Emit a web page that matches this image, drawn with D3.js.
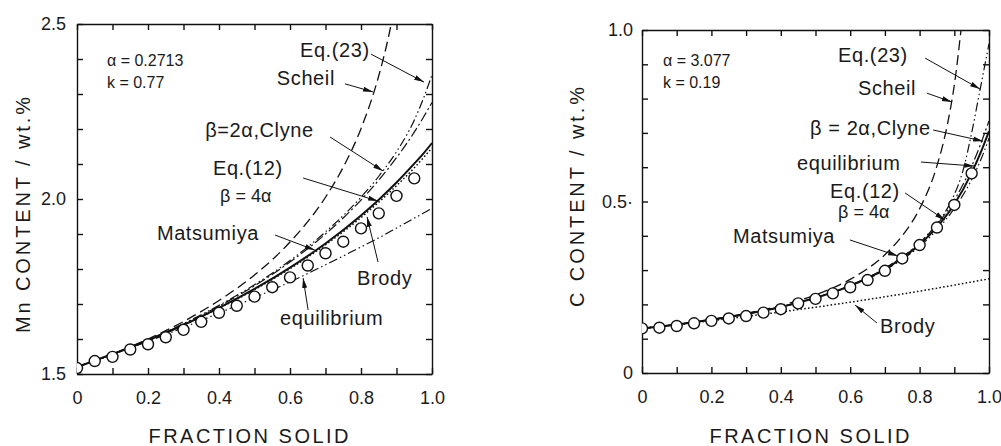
<!DOCTYPE html>
<html>
<head>
<meta charset="utf-8">
<script src="https://cdn.jsdelivr.net/npm/d3@7"></script>
<style>
  html, body { margin: 0; padding: 0; background: #fff; }
  svg { display: block; font-family: "Liberation Sans", Arial, sans-serif; }
  .axis text { font-size: 18px; fill: #1a1a1a; }
  .axis path, .axis line { stroke: #111; stroke-width: 1.4; }
</style>
</head>
<body>
<svg id="chart" width="1001" height="446"></svg>
<script>
// ---------- data: left panel (Mn) ----------
const mnFs        = [0, 0.1, 0.2, 0.3, 0.4, 0.5, 0.6, 0.7, 0.8, 0.85, 0.9, 0.95, 0.975, 1.0];
const mnScheilFs  = [0, 0.1, 0.2, 0.3, 0.4, 0.5, 0.6, 0.7, 0.75, 0.8, 0.85, 0.88, 0.9];
const mnScheil    = [1.520, 1.557, 1.600, 1.650, 1.710, 1.783, 1.877, 2.005, 2.091, 2.201, 2.352, 2.475, 2.581];
const mnEq23      = [1.520, 1.557, 1.598, 1.644, 1.696, 1.755, 1.824, 1.906, 2.005, 2.065, 2.135, 2.225, 2.285, 2.355];
const mnClyne     = [1.520, 1.557, 1.597, 1.643, 1.694, 1.752, 1.820, 1.900, 1.997, 2.054, 2.118, 2.191, 2.232, 2.276];
const mnEq12      = [1.520, 1.557, 1.596, 1.640, 1.689, 1.743, 1.804, 1.873, 1.953, 1.998, 2.047, 2.101, 2.129, 2.160];
const mnBrody     = [1.520, 1.556, 1.596, 1.640, 1.688, 1.741, 1.801, 1.869, 1.947, 1.991, 2.038, 2.089, 2.117, 2.146];
const mnEquil     = [1.520, 1.556, 1.593, 1.633, 1.674, 1.718, 1.763, 1.812, 1.863, 1.889, 1.917, 1.945, 1.959, 1.974];
const circleFs    = [0, 0.05, 0.1, 0.15, 0.2, 0.25, 0.3, 0.35, 0.4, 0.45, 0.5, 0.55, 0.6, 0.65, 0.7, 0.75, 0.8, 0.85, 0.9, 0.95];
const mnMatsumiya = [1.517, 1.537, 1.549, 1.570, 1.585, 1.605, 1.626, 1.649, 1.675, 1.695, 1.721, 1.748, 1.776, 1.810, 1.845, 1.878, 1.916, 1.959, 2.009, 2.059];

// ---------- data: right panel (C) ----------
const cFs         = [0, 0.1, 0.2, 0.3, 0.4, 0.5, 0.6, 0.7, 0.8, 0.85, 0.9, 0.95, 0.975, 1.0];
const cScheilFs   = [0, 0.1, 0.2, 0.3, 0.4, 0.5, 0.6, 0.7, 0.75, 0.8, 0.85, 0.88, 0.9, 0.92];
const cScheil     = [0.130, 0.142, 0.156, 0.174, 0.197, 0.228, 0.273, 0.345, 0.400, 0.479, 0.604, 0.724, 0.839, 1.006];
const cEq23Fs     = [0, 0.1, 0.2, 0.3, 0.4, 0.5, 0.6, 0.7, 0.8, 0.85, 0.88, 0.9, 0.925, 0.95, 0.975, 1.0];
const cEq23       = [0.130, 0.1415, 0.1552, 0.172, 0.193, 0.2197, 0.2553, 0.305, 0.3797, 0.435, 0.48, 0.52, 0.59, 0.70, 0.83, 0.96];
const cClyne      = [0.130, 0.1415, 0.1552, 0.1720, 0.1929, 0.2197, 0.2553, 0.305, 0.3797, 0.4328, 0.504, 0.603, 0.665, 0.735];
const cEq12       = [0.130, 0.1415, 0.1552, 0.1719, 0.1926, 0.2191, 0.2542, 0.3028, 0.3747, 0.4253, 0.492, 0.5836, 0.640, 0.705];
const cEquil      = [0.130, 0.1415, 0.1551, 0.1717, 0.1923, 0.2185, 0.2529, 0.3002, 0.3693, 0.4173, 0.4797, 0.5640, 0.6183, 0.6842];
const cBrodyFs    = [0, 0.1, 0.2, 0.3, 0.4, 0.5, 0.6, 0.7, 0.8, 0.9, 1.0];
const cBrody      = [0.130, 0.1409, 0.1525, 0.1648, 0.1779, 0.1918, 0.2065, 0.2222, 0.2387, 0.2562, 0.2747];
const cMatsumiya  = [0.130, 0.132, 0.137, 0.145, 0.152, 0.159, 0.166, 0.176, 0.186, 0.203, 0.216, 0.232, 0.250, 0.271, 0.298, 0.334, 0.373, 0.424, 0.490, 0.582];

// ---------- tick labels ----------
const xTickValues  = [0, 0.1, 0.2, 0.3, 0.4, 0.5, 0.6, 0.7, 0.8, 0.9, 1.0];
const xTickLabels  = {0: "0", 0.2: "0.2", 0.4: "0.4", 0.6: "0.6", 0.8: "0.8", 1: "1.0"};
const mnTickValues = [1.5, 1.6, 1.7, 1.8, 1.9, 2.0, 2.1, 2.2, 2.3, 2.4, 2.5];
const mnTickLabels = {1.5: "1.5", 2: "2.0", 2.5: "2.5"};
const cTickValues  = [0, 0.1, 0.2, 0.3, 0.4, 0.5, 0.6, 0.7, 0.8, 0.9, 1.0];
const cTickLabels  = {0: "0", 0.5: "0.5·", 1: "1.0"};

// ---------- annotations (data coordinates) ----------
const mnLabels = [
  {t: "α = 0.2713", fs: 0.0845, v: 2.380, size: 16},
  {t: "k = 0.77", fs: 0.0845, v: 2.317, size: 16},
  {t: "Eq.(23)", fs: 0.628, v: 2.406},
  {t: "Scheil", fs: 0.563, v: 2.326},
  {t: "β=2α,Clyne", fs: 0.361, v: 2.177},
  {t: "Eq.(12)", fs: 0.383, v: 2.069},
  {t: "β = 4α", fs: 0.403, v: 1.991, size: 18},
  {t: "Matsumiya", fs: 0.225, v: 1.883},
  {t: "Brody", fs: 0.789, v: 1.754},
  {t: "equilibrium", fs: 0.572, v: 1.640}
];
const mnArrows = [
  [0.828, 2.414, 0.9775, 2.334],
  [0.755, 2.329, 0.834, 2.306],
  [0.713, 2.177, 0.862, 2.080],
  [0.637, 2.060, 0.848, 1.994],
  [0.558, 1.897, 0.670, 1.854],
  [0.848, 1.820, 0.817, 1.949],
  [0.651, 1.683, 0.637, 1.774]
];
const cLabels = [
  {t: "α = 3.077", fs: 0.0605, v: 0.895, size: 16},
  {t: "k = 0.19", fs: 0.0605, v: 0.831, size: 16},
  {t: "Eq.(23)", fs: 0.565, v: 0.907},
  {t: "Scheil", fs: 0.6225, v: 0.8105},
  {t: "β = 2α,Clyne", fs: 0.484, v: 0.694},
  {t: "equilibrium", fs: 0.447, v: 0.592},
  {t: "Eq.(12)", fs: 0.542, v: 0.510},
  {t: "β = 4α", fs: 0.565, v: 0.452, size: 18},
  {t: "Matsumiya", fs: 0.262, v: 0.379},
  {t: "Brody", fs: 0.686, v: 0.1166}
];
const cArrows = [
  [0.816, 0.918, 0.974, 0.828],
  [0.821, 0.816, 0.893, 0.790],
  [0.839, 0.7085, 0.983, 0.676],
  [0.804, 0.615, 0.957, 0.6035],
  [0.758, 0.525, 0.873, 0.446],
  [0.599, 0.388, 0.738, 0.341],
  [0.677, 0.146, 0.614, 0.198]
];

// ---------- drawing ----------
const svg = d3.select("#chart");
const defs = svg.append("defs");
defs.append("marker").attr("id", "arr").attr("viewBox", "0 0 10 6")
  .attr("refX", 10).attr("refY", 3).attr("markerWidth", 10).attr("markerHeight", 6)
  .attr("markerUnits", "userSpaceOnUse").attr("orient", "auto")
  .append("path").attr("d", "M0,0.5 L10,3 L0,5.5 Z").attr("fill", "#111");

const styles = {
  scheil: {dash: "10,5", w: 1.3},
  eq23:   {dash: "9,3,1.5,3,1.5,3", w: 1.2},
  clyne:  {dash: "10,3,2,3", w: 1.2},
  eq12:   {dash: null, w: 2.0},
  brody:  {dash: "1.6,2.2", w: 1.5},
  equil:  {dash: "9,3,1.5,3,1.5,3", w: 1.2}
};

function panel(opts) {
  const g = svg.append("g");
  const x = d3.scaleLinear().domain([0, 1]).range([opts.x0, opts.x1]);
  const y = d3.scaleLinear().domain(opts.yDomain).range([opts.y1, opts.y0]);
  const clipId = "clip" + opts.id;
  defs.append("clipPath").attr("id", clipId).append("rect")
    .attr("x", opts.x0).attr("y", opts.y0).attr("width", opts.x1 - opts.x0).attr("height", opts.y1 - opts.y0);

  // axes (ticks inside, on all four sides)
  g.append("g").attr("class", "axis").attr("transform", `translate(0,${opts.y1})`)
    .call(d3.axisBottom(x).tickValues(xTickValues).tickSizeInner(-6).tickSizeOuter(0).tickPadding(17)
      .tickFormat(d => xTickLabels[Math.round(d * 10) / 10] || ""));
  g.append("g").attr("class", "axis").attr("transform", `translate(0,${opts.y0})`)
    .call(d3.axisTop(x).tickValues(xTickValues).tickSizeInner(-6).tickSizeOuter(0).tickFormat(""));
  g.append("g").attr("class", "axis").attr("transform", `translate(${opts.x0},0)`)
    .call(d3.axisLeft(y).tickValues(opts.yTicks).tickSizeInner(-6).tickSizeOuter(0).tickPadding(opts.yPad)
      .tickFormat(d => opts.yLabels[Math.round(d * 10) / 10] || ""));
  g.append("g").attr("class", "axis").attr("transform", `translate(${opts.x1},0)`)
    .call(d3.axisRight(y).tickValues(opts.yTicks).tickSizeInner(-6).tickSizeOuter(0).tickFormat(""));

  // curves
  const line = d3.line().x(d => x(d[0])).y(d => y(d[1])).curve(d3.curveMonotoneX);
  const cg = g.append("g").attr("clip-path", `url(#${clipId})`);
  opts.series.forEach(s => {
    const pts = s.fs.map((f, i) => [f, s.v[i]]);
    const st = styles[s.style];
    cg.append("path").attr("d", line(pts)).attr("fill", "none").attr("stroke", "#111")
      .attr("stroke-width", st.w).attr("stroke-dasharray", st.dash);
  });
  // circles
  cg.selectAll("circle.m").data(circleFs.map((f, i) => [f, opts.circles[i]])).enter()
    .append("circle").attr("cx", d => x(d[0])).attr("cy", d => y(d[1])).attr("r", 5.5)
    .attr("fill", "#fff").attr("stroke", "#111").attr("stroke-width", 1.4);

  // labels
  g.selectAll("text.lab").data(opts.labels).enter().append("text")
    .attr("x", d => x(d.fs)).attr("y", d => y(d.v))
    .attr("font-size", d => d.size || 20).attr("fill", "#1a1a1a").attr("letter-spacing", d => d.size ? 0 : 0.6)
    .text(d => d.t);
  // arrows
  g.selectAll("line.arr").data(opts.arrows).enter().append("line")
    .attr("x1", d => x(d[0])).attr("y1", d => y(d[1])).attr("x2", d => x(d[2])).attr("y2", d => y(d[3]))
    .attr("stroke", "#111").attr("stroke-width", 1).attr("marker-end", "url(#arr)");

  // axis titles
  g.append("text").attr("x", (opts.x0 + opts.x1) / 2 - 6).attr("y", 443).attr("text-anchor", "middle")
    .attr("font-size", 20).attr("fill", "#1a1a1a").attr("textLength", 200).attr("lengthAdjust", "spacing")
    .text("FRACTION SOLID");
  g.append("text").attr("transform", `translate(${opts.ytx},${opts.yty}) rotate(-90)`)
    .attr("text-anchor", "middle").attr("font-size", 20).attr("fill", "#1a1a1a")
    .attr("textLength", opts.ytLen).attr("lengthAdjust", "spacing")
    .text(opts.yTitle);
}

panel({
  id: "L", x0: 77, x1: 432, y0: 24, y1: 374, yDomain: [1.5, 2.5], yTicks: mnTickValues, yLabels: mnTickLabels, yPad: 11,
  series: [
    {fs: mnScheilFs, v: mnScheil, style: "scheil"},
    {fs: mnFs, v: mnEq23, style: "eq23"},
    {fs: mnFs, v: mnClyne, style: "clyne"},
    {fs: mnFs, v: mnEquil, style: "equil"},
    {fs: mnFs, v: mnBrody, style: "brody"},
    {fs: mnFs, v: mnEq12, style: "eq12"}
  ],
  circles: mnMatsumiya, labels: mnLabels, arrows: mnArrows,
  yTitle: "Mn CONTENT / wt.%", ytx: 30, yty: 215, ytLen: 236
});

panel({
  id: "R", x0: 642, x1: 989, y0: 30, y1: 373, yDomain: [0, 1], yTicks: cTickValues, yLabels: cTickLabels, yPad: 9,
  series: [
    {fs: cScheilFs, v: cScheil, style: "scheil"},
    {fs: cEq23Fs, v: cEq23, style: "eq23"},
    {fs: cFs, v: cClyne, style: "clyne"},
    {fs: cFs, v: cEquil, style: "equil"},
    {fs: cBrodyFs, v: cBrody, style: "brody"},
    {fs: cFs, v: cEq12, style: "eq12"}
  ],
  circles: cMatsumiya, labels: cLabels, arrows: cArrows,
  yTitle: "C CONTENT / wt.%", ytx: 584, yty: 197, ytLen: 220
});
</script>
</body>
</html>
